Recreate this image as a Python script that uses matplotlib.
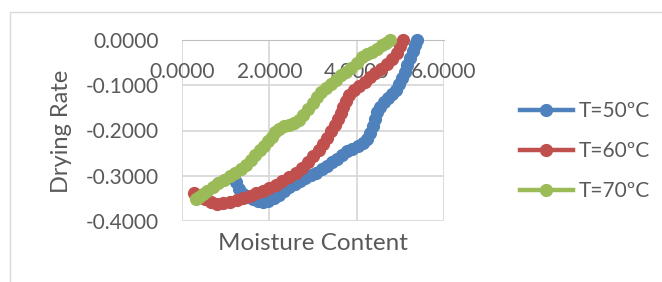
import matplotlib
matplotlib.use("Agg")
import matplotlib.pyplot as plt
from matplotlib.patches import Rectangle

plt.rcParams['font.family'] = ['Lato', 'DejaVu Sans']

# data (moisture content vs drying rate)
x_50 = [5.38, 5.33, 5.28, 5.22, 5.16, 5.10, 5.04, 4.98, 4.90, 4.82, 4.72, 4.62,
        4.54, 4.47, 4.42, 4.37, 4.31, 4.24, 4.14, 4.02, 3.90, 3.78, 3.66, 3.55,
        3.44, 3.32, 3.20, 3.08, 2.95, 2.82, 2.70, 2.58, 2.46, 2.34, 2.22, 2.10,
        1.98, 1.86, 1.74, 1.62, 1.50, 1.40, 1.31, 1.24]
y_50 = [0.000, -0.012, -0.025, -0.040, -0.056, -0.071, -0.085, -0.098, -0.110,
        -0.120, -0.128, -0.137, -0.148, -0.160, -0.175, -0.190, -0.205, -0.218,
        -0.228, -0.235, -0.240, -0.246, -0.254, -0.262, -0.270, -0.278, -0.286,
        -0.293, -0.299, -0.305, -0.311, -0.318, -0.325, -0.333, -0.342, -0.350,
        -0.356, -0.358, -0.356, -0.352, -0.347, -0.340, -0.330, -0.313]

x_60 = [5.07, 5.00, 4.92, 4.82, 4.69, 4.56, 4.43, 4.31, 4.18, 4.05, 3.93, 3.83,
        3.75, 3.69, 3.63, 3.57, 3.50, 3.42, 3.33, 3.24, 3.13, 3.01, 2.88, 2.74,
        2.60, 2.45, 2.30, 2.15, 2.00, 1.85, 1.70, 1.55, 1.40, 1.25, 1.10, 0.95,
        0.80, 0.66, 0.53, 0.40, 0.28]
y_60 = [0.000, -0.013, -0.028, -0.042, -0.053, -0.064, -0.073, -0.082, -0.092,
        -0.101, -0.111, -0.122, -0.134, -0.147, -0.161, -0.174, -0.188, -0.202,
        -0.216, -0.230, -0.244, -0.257, -0.270, -0.282, -0.293, -0.303, -0.312,
        -0.320, -0.327, -0.333, -0.339, -0.345, -0.350, -0.354, -0.358, -0.361,
        -0.362, -0.359, -0.352, -0.345, -0.338]

x_70 = [4.77, 4.68, 4.57, 4.46, 4.35, 4.24, 4.12, 4.00, 3.88, 3.76, 3.64, 3.52,
        3.41, 3.30, 3.19, 3.09, 2.99, 2.88, 2.78, 2.68, 2.57, 2.45, 2.33, 2.22,
        2.13, 2.05, 1.96, 1.87, 1.78, 1.68, 1.58, 1.47, 1.35, 1.22, 1.09, 0.96,
        0.83, 0.70, 0.58, 0.47, 0.38, 0.33]
y_70 = [0.000, -0.006, -0.012, -0.019, -0.026, -0.032, -0.038, -0.050, -0.062,
        -0.070, -0.078, -0.088, -0.097, -0.105, -0.115, -0.126, -0.139, -0.152,
        -0.165, -0.177, -0.183, -0.188, -0.191, -0.196, -0.203, -0.214, -0.224,
        -0.234, -0.244, -0.254, -0.265, -0.276, -0.285, -0.293, -0.301, -0.309,
        -0.317, -0.325, -0.333, -0.341, -0.348, -0.352]

labels = ['T=50ºC', 'T=60ºC', 'T=70ºC']
colors = ['#4F81BD', '#C0504D', '#9BBB59']
x_ticks = [0, 2, 4, 6]
y_ticks = [0.0, -0.1, -0.2, -0.3, -0.4]

text_col = '#595959'
grid_col = '#D9D9D9'

fig = plt.figure(figsize=(6.62, 2.82), dpi=100)
ax = fig.add_axes([182 / 662, 61 / 282, 262 / 662, 181 / 282])

for xs, ys, c, lab in zip([x_50, x_60, x_70], [y_50, y_60, y_70], colors, labels):
    ax.plot(xs, ys, '-o', color=c, lw=3.2, ms=8.5, label=lab, clip_on=False, zorder=3)

ax.set_xlim(0, 6)
ax.set_ylim(-0.4, 0.0)
ax.set_xticks(x_ticks)
ax.set_yticks(y_ticks)
ax.set_xticklabels([f'{v:.4f}' for v in x_ticks])
ax.set_yticklabels([f'{v:.4f}' for v in y_ticks])
ax.grid(True, color=grid_col, lw=1.3)
ax.set_axisbelow(True)

# excel style: horizontal axis crosses at y = 0
for s in ['top', 'right', 'left']:
    ax.spines[s].set_visible(False)
ax.spines['bottom'].set_position(('data', 0))
ax.spines['bottom'].set_color('#BFBFBF')
ax.tick_params(axis='x', length=0, pad=16, labelsize=15, labelcolor=text_col)
ax.tick_params(axis='y', length=0, pad=17, labelsize=15, labelcolor=text_col)

fig.text(313 / 662, 1 - 243 / 282, 'Moisture Content', ha='center', va='center',
         fontsize=17.5, color=text_col)
fig.text(62 / 662, 1 - 131 / 282, 'Drying Rate', ha='center', va='center',
         rotation=90, fontsize=17, color=text_col)

handles, labs = ax.get_legend_handles_labels()
leg = fig.legend(handles, labs, loc='center left', bbox_to_anchor=(510 / 662, 1 - 151 / 282),
                 frameon=False, fontsize=15, handlelength=2.5, handletextpad=0.3,
                 labelspacing=0.95, borderpad=0)
for t in leg.get_texts():
    t.set_color(text_col)

# chart area border
fig.patches.append(Rectangle((10 / 662, -0.1), 1.0, 1 - 12 / 282 + 0.1,
                             transform=fig.transFigure, fill=False,
                             edgecolor=grid_col, lw=1.0))

fig.savefig('out.png', dpi=100)
